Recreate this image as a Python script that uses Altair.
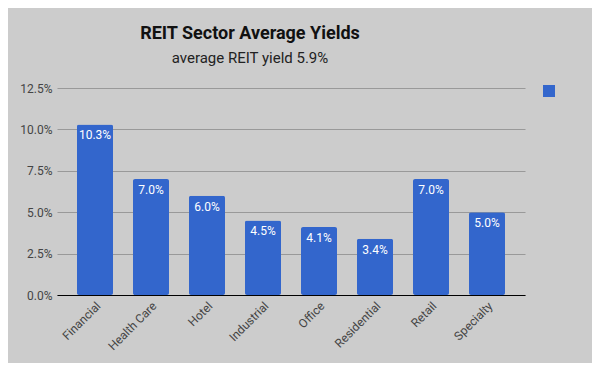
import altair as alt
import pandas as pd

sectors = ["Financial", "Health Care", "Hotel", "Industrial", "Office", "Residential", "Retail", "Specialty"]
yields = [0.103, 0.070, 0.060, 0.045, 0.041, 0.034, 0.070, 0.050]
series = [" "] * len(sectors)
y_ticks = [0.0, 0.025, 0.05, 0.075, 0.10, 0.125]

df = pd.DataFrame({"sector": sectors, "yield": yields, "series": series})

base = alt.Chart(df)

bars = base.mark_bar(cornerRadius=2).encode(
    x=alt.X("sector:N", sort=sectors, title=None,
            scale=alt.Scale(paddingInner=0.357, paddingOuter=0.357),
            axis=alt.Axis(labelAngle=-45, ticks=False, domainColor="#000000", domainWidth=1,
                          labelColor="#444444", labelFont="Roboto", labelFontSize=12, labelPadding=5)),
    y=alt.Y("yield:Q", title=None, scale=alt.Scale(domain=[0, 0.125], nice=False),
            axis=alt.Axis(values=y_ticks, format=".1%", ticks=False, domain=False,
                          gridColor="#999999", labelColor="#444444", labelFont="Roboto",
                          labelFontSize=12, labelPadding=5)),
    color=alt.Color("series:N", scale=alt.Scale(range=["#3366cc"]),
                    legend=alt.Legend(title=None, orient="none", legendX=486, legendY=-3,
                                      symbolType="square", symbolSize=144, symbolStrokeWidth=0,
                                      symbolOpacity=1, labelExpr="''", padding=0)),
)

labels = base.mark_text(baseline="top", dy=6, color="white", font="Roboto", fontSize=12).encode(
    x=alt.X("sector:N", sort=sectors),
    y="yield:Q",
    text=alt.Text("yield:Q", format=".1%"),
)

chart = (bars + labels).properties(
    width=468, height=207,
    background="#cccccc",
    autosize=alt.AutoSizeParams(type="none"),
    padding={"left": 49, "top": 80, "right": 67, "bottom": 68},
    title=alt.TitleParams(
        text="REIT Sector Average Yields",
        subtitle="average REIT yield 5.9%",
        anchor="middle", frame="group", dx=-41, offset=16,
        font="Roboto", fontSize=18, fontWeight="bold", color="#111111",
        subtitleFont="Roboto", subtitleFontSize=15, subtitleColor="#222222",
        subtitlePadding=8,
    ),
).configure_view(stroke=None)

chart.save("out.html", embed_options={"renderer": "svg", "actions": False})
